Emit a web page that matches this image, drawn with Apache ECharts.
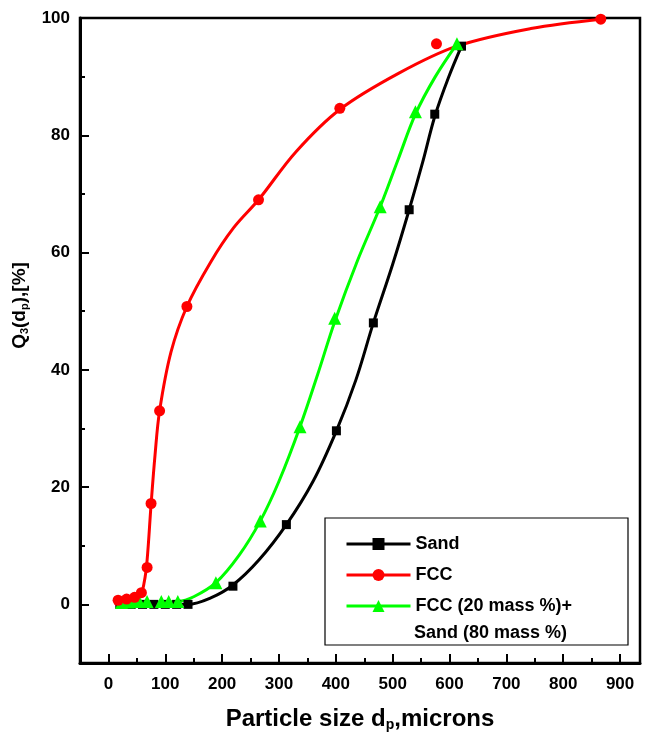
<!DOCTYPE html>
<html>
<head>
<meta charset="utf-8">
<script src="https://cdn.jsdelivr.net/npm/echarts@6/dist/echarts.min.js"></script>
<style>
  html, body { margin: 0; padding: 0; background: #fff; }
  #chart { width: 645px; height: 732px; }
</style>
</head>
<body>
<div id="chart"></div>
<script>
const sandData = [
  [20, 0], [40, 0], [60, 0], [80, 0], [100, 0], [120, 0], [140, 0],
  [219, 3.1], [313, 13.6], [401, 29.6], [466, 48], [529, 67.3], [574, 83.6], [621, 95.2]
]
const fccData = [
  [17, 0.7], [32, 0.9], [46, 1.2], [58, 2.0], [68, 6.3], [75, 17.2], [90, 33],
  [138, 50.8], [264, 69], [407, 84.6], [577, 95.6], [866, 99.8]
]
const mixData = [
  [23, 0.3], [35, 0.4], [45, 0.5], [54, 0.5], [68, 0.5], [93, 0.5], [106, 0.5], [122, 0.5],
  [189, 3.7], [267, 14.2], [337, 30.3], [398, 48.8], [478, 67.8], [540, 84], [613, 95.6]
]
// fitted curves, also
const sandFit = [
  [20, 0], [140, 0], [180, 1.1], [219, 3.3], [265, 7.6], [313, 13.6], [360, 21], [401, 29.6],
  [435, 38.2], [466, 48], [500, 58], [529, 67.3], [553, 75.5], [574, 83.2], [598, 89.8], [621, 95.2]
]
const fccFit = [
  [17, 0.7], [40, 0.9], [56, 1.6], [63, 3.8], [68, 7.5], [75, 17], [82, 25.5], [90, 33],
  [110, 43], [138, 50.8], [180, 58.4], [220, 64.2], [264, 69], [330, 77.2], [407, 84.4],
  [511, 90.6], [613, 95.2], [743, 98.2], [866, 99.8]
]
const mixFit = [
  [23, 0.3], [122, 0.5], [150, 1.3], [189, 3.7], [230, 8.4], [267, 14.2], [300, 21], [337, 30.3],
  [368, 39.2], [398, 48.2], [438, 58.6], [478, 67.8], [510, 76], [540, 83.6], [575, 90], [613, 95.6]
]
const xMajor = [0, 100, 200, 300, 400, 500, 600, 700, 800, 900]
const xMinor = [50, 150, 250, 350, 450, 550, 650, 750, 850]
const yMajor = [0, 20, 40, 60, 80, 100]
const yMinor = [10, 30, 50, 70, 90]

const font = 'Liberation Sans, Arial, sans-serif'
const mixName = 'FCC (20 mass %)+\nSand (80 mass %)'
const chart = echarts.init(document.getElementById('chart'))

const baseX = {
  type: 'value',
  min: -50,
  max: 935,
  position: 'bottom',
  splitLine: { show: false }
}
const baseY = {
  type: 'value',
  min: -10,
  max: 100,
  position: 'left',
  splitLine: { show: false }
}

function fitSeries(name, data, color, symbol, size, z) {
  return {
    name: name,
    type: 'line',
    data: data,
    smooth: 0.35,
    symbol: symbol,
    symbolSize: size,
    showSymbol: false,
    z: z,
    lineStyle: { color: color, width: 3 },
    itemStyle: { color: color }
  }
}
function pointSeries(name, data, color, symbol, size, z) {
  return {
    name: name,
    type: 'scatter',
    data: data,
    symbol: symbol,
    symbolSize: size,
    z: z,
    itemStyle: { color: color, opacity: 1 }
  }
}

chart.setOption({
  animation: false,
  grid: {
    left: 80,
    right: 5,
    top: 18,
    bottom: 69,
    outerBoundsMode: 'none',
    show: true,
    borderColor: '#000',
    borderWidth: 2.5
  },
  xAxis: [
    Object.assign({}, baseX, {
      name: 'Particle size d{sub|p},microns',
      nameLocation: 'middle',
      nameGap: 43,
      nameTextStyle: {
        fontFamily: font, fontSize: 24, fontWeight: 'bold', color: '#000',
        rich: { sub: { fontFamily: font, fontSize: 14, fontWeight: 'bold', padding: [12, 0, 0, 0] } }
      },
      axisLine: { onZero: false, lineStyle: { color: '#000', width: 3 } },
      axisTick: { inside: true, length: 9, customValues: xMajor, lineStyle: { color: '#000', width: 2 } },
      axisLabel: { customValues: xMajor, margin: 13, fontFamily: font, fontSize: 17, fontWeight: 'bold', color: '#000' }
    }),
    Object.assign({}, baseX, {
      axisLine: { show: false, onZero: false },
      axisTick: { inside: true, length: 5, customValues: xMinor, lineStyle: { color: '#000', width: 2 } },
      axisLabel: { show: false }
    })
  ],
  yAxis: [
    Object.assign({}, baseY, {
      name: 'Q{sub|3}(d{sub|p}),[%]',
      nameLocation: 'middle',
      nameGap: 46,
      nameRotate: 90,
      nameTextStyle: {
        fontFamily: font, fontSize: 19, fontWeight: 'bold', color: '#000',
        padding: [0, 0, 0, 70],
        rich: { sub: { fontFamily: font, fontSize: 11, fontWeight: 'bold', padding: [10, 0, 0, 0] } }
      },
      axisLine: { onZero: false, lineStyle: { color: '#000', width: 3 } },
      axisTick: { inside: true, length: 9, customValues: yMajor, lineStyle: { color: '#000', width: 2 } },
      axisLabel: { customValues: yMajor, margin: 10, fontFamily: font, fontSize: 17, fontWeight: 'bold', color: '#000' }
    }),
    Object.assign({}, baseY, {
      axisLine: { show: false, onZero: false },
      axisTick: { inside: true, length: 5, customValues: yMinor, lineStyle: { color: '#000', width: 2 } },
      axisLabel: { show: false }
    })
  ],
  legend: {
    orient: 'vertical',
    left: 345,
    top: 535,
    padding: 0,
    itemWidth: 64,
    itemHeight: 15,
    itemGap: 13,
    lineStyle: { width: 3 },
    data: ['Sand', 'FCC', mixName],
    formatter: function (name) { return name.split('\n')[0] },
    textStyle: { fontFamily: font, fontSize: 18, fontWeight: 'bold', color: '#000' }
  },
  graphic: [
    {
      type: 'rect',
      z: 1,
      shape: { x: 325, y: 518, width: 303, height: 127 },
      style: { fill: '#fff', stroke: '#000', lineWidth: 1.2 }
    },
    {
      type: 'text',
      z: 5,
      x: 414,
      y: 633,
      style: {
        text: 'Sand (80 mass %)',
        fontFamily: font, fontSize: 18, fontWeight: 'bold', fill: '#000',
        verticalAlign: 'middle'
      }
    }
  ],
  series: [
    fitSeries('Sand', sandFit, '#000000', 'rect', 9, 2),
    fitSeries('FCC', fccFit, '#ff0000', 'circle', 11, 4),
    fitSeries(mixName, mixFit, '#00ff00', 'triangle', 13, 3),
    pointSeries('Sand', sandData, '#000000', 'rect', 9, 5),
    pointSeries('FCC', fccData, '#ff0000', 'circle', 11, 7),
    pointSeries(mixName, mixData, '#00ff00', 'triangle', 13, 6)
  ]
})
</script>
</body>
</html>
